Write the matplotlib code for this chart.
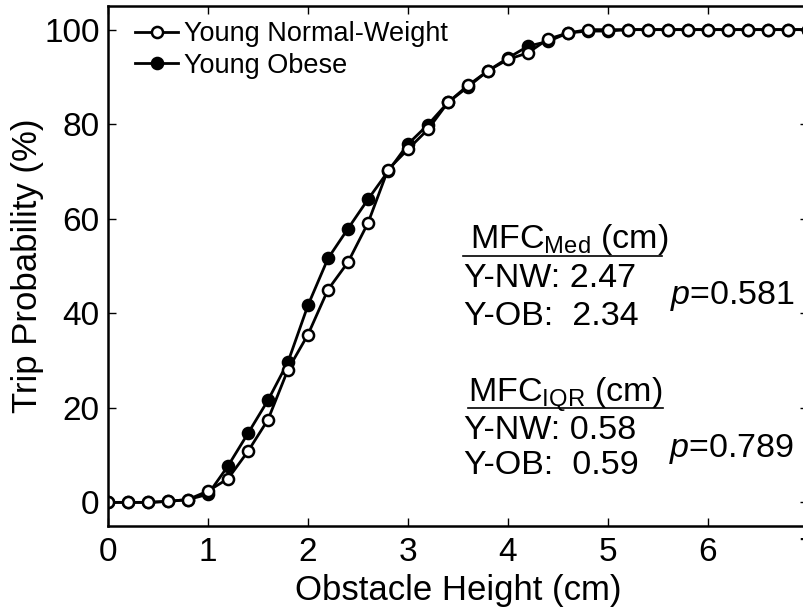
import matplotlib.pyplot as plt

plt.rcParams['font.family'] = ['Liberation Sans', 'DejaVu Sans']
plt.rcParams['mathtext.fontset'] = 'custom'
plt.rcParams['mathtext.rm'] = 'Liberation Sans'
plt.rcParams['mathtext.it'] = 'Liberation Sans:italic'

heights = [round(0.2 * i, 1) for i in range(36)]

normal_weight = [0, 0, 0, 0.2, 0.6, 2.4, 5.0, 10.8, 17.5, 28.1, 35.5, 45.0, 50.8, 59.1,
                 70.4, 74.7, 78.9, 84.6, 88.2, 91.3, 93.7, 95.1, 98.0, 99.3, 100, 100,
                 100, 100, 100, 100, 100, 100, 100, 100, 100, 100]
obese = [0, 0, 0, 0.2, 0.6, 1.7, 7.7, 14.6, 21.6, 29.7, 41.7, 51.6, 57.9, 64.1,
         70.0, 75.8, 79.9, 84.6, 87.9, 91.3, 94.0, 96.5, 97.5, 99.3, 99.7, 99.7,
         100, 100, 100, 100, 100, 100, 100, 100, 100, 100]

labels = ['Young Normal-Weight', 'Young Obese']

fig = plt.figure(figsize=(8.04, 6.09), dpi=100)
ax = fig.add_axes([108 / 804, 1 - 526 / 609, 700 / 804, 520 / 609])

h_ob, = ax.plot(heights, obese, '-o', color='black', lw=2.0, ms=8,
                mfc='black', mec='black', mew=1.8)
h_nw, = ax.plot(heights, normal_weight, '-o', color='black', lw=2.0, ms=8,
                mfc='white', mec='black', mew=1.8)

ax.set_xlim(0, 7)
ax.set_ylim(-5, 105)
ax.set_xticks(range(8))
ax.set_yticks(range(0, 101, 20))
ax.tick_params(direction='in', top=True, right=True, labelsize=24, length=6,
               width=1)
ax.tick_params(axis='x', pad=8)
ax.tick_params(axis='y', pad=6)
for s in ax.spines.values():
    s.set_linewidth(1.8)

ax.set_xlabel('Obstacle Height (cm)', fontsize=25, labelpad=4)
ax.set_ylabel('Trip Probability (%)', fontsize=25, labelpad=0)

ax.legend([h_nw, h_ob], labels, loc='upper left', frameon=False, fontsize=19.5,
          handlelength=1.6, handletextpad=0.2, labelspacing=0.22,
          borderaxespad=0, borderpad=0, bbox_to_anchor=(27 / 700, 1 - 15 / 520))

# stats annotation
fs = 24.5
ax.text(3.62, 53.9, r'MFC$_{\mathrm{Med}}$ (cm)', fontsize=fs, va='baseline')
ax.plot([3.55, 5.54], [52.2, 52.2], color='black', lw=1.2)
ax.text(3.56, 45.5, 'Y-NW: 2.47', fontsize=fs, va='baseline')
ax.text(3.56, 37.6, 'Y-OB:  2.34', fontsize=fs, va='baseline')
ax.text(5.62, 41.9, r'$p$=0.581', fontsize=fs, va='baseline')

ax.text(3.60, 21.2, r'MFC$_{\mathrm{IQR}}$ (cm)', fontsize=fs, va='baseline')
ax.plot([3.60, 5.55], [19.9, 19.9], color='black', lw=1.2)
ax.text(3.56, 13.5, 'Y-NW: 0.58', fontsize=fs, va='baseline')
ax.text(3.56, 5.9, 'Y-OB:  0.59', fontsize=fs, va='baseline')
ax.text(5.61, 9.7, r'$p$=0.789', fontsize=fs, va='baseline')

fig.savefig('out.png', dpi=100)
